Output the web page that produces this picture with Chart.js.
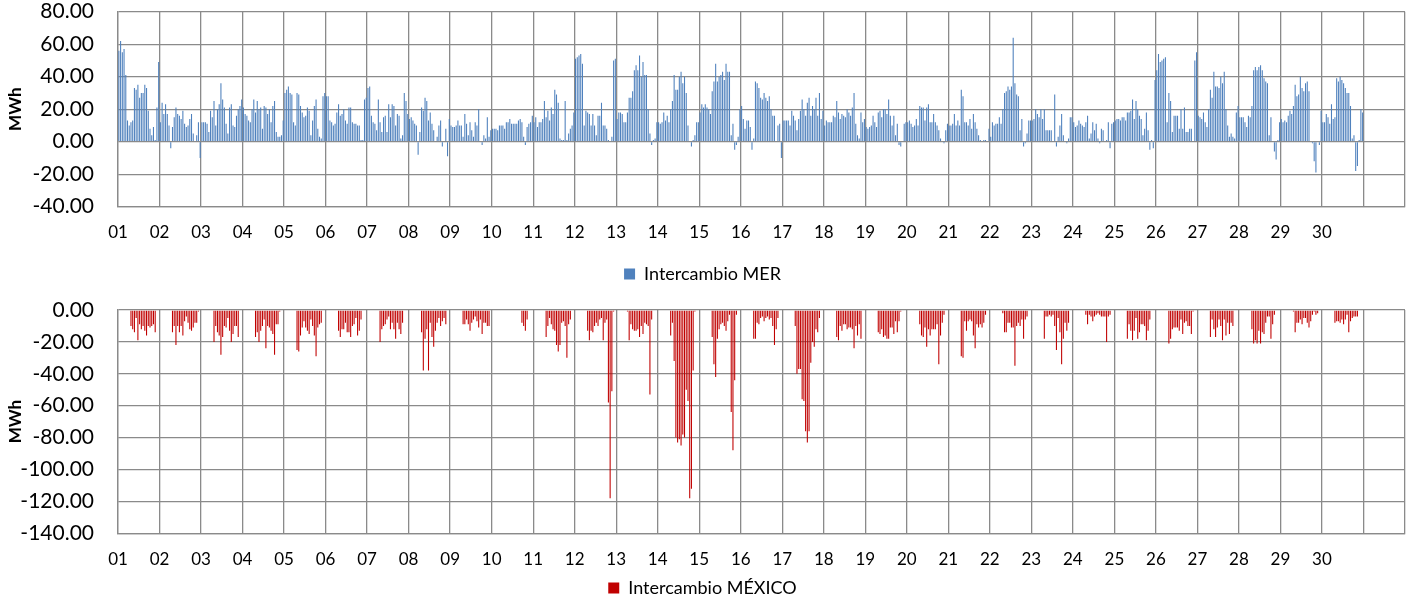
<!DOCTYPE html>
<html>
<head>
<meta charset="utf-8">
<script src="https://cdn.jsdelivr.net/npm/chart.js@4.4.0/dist/chart.umd.min.js"></script>
<style>
  html, body { margin: 0; padding: 0; background: #fff; overflow: hidden; width: 1406px; height: 600px; }
  #top { position: absolute; left: 0; top: 0; width: 1406px; height: 295px; }
  #bot { position: absolute; left: 0; top: 290px; width: 1406px; height: 320px; }
</style>
</head>
<body>
<div id="top"><canvas id="c1"></canvas></div>
<div id="bot"><canvas id="c2"></canvas></div>
<script>
const dayLabels = ['01','02','03','04','05','06','07','08','09','10','11','12','13','14','15','16','17','18','19','20','21','22','23','24','25','26','27','28','29','30'];
const merTicks = [-40, -20, 0, 20, 40, 60, 80];
const mexTicks = [-140, -120, -100, -80, -60, -40, -20, 0];

// Intercambio MER, hourly MWh, one row per day
const mer = [
  [56,62,55,57,41,13,10,12,13,33,32,35,27,30,30,35,33,19,8,4,9,1,21,49],
  [12,24,17,23,17,10,-4,9,15,21,17,16,14,19,11,9,10,14,17,5,0,4,12,-10],
  [12,12,12,11,6,19,15,25,10,20,23,36,26,21,11,5,21,23,10,9,16,20,22,26],
  [21,17,16,13,12,20,26,18,25,20,21,8,22,21,17,20,12,22,25,6,3,3,4,13],
  [30,32,34,30,29,12,10,30,29,22,18,15,16,21,19,4,13,22,26,8,3,2,28,30],
  [28,28,13,12,10,11,18,23,16,17,20,13,11,21,21,12,11,11,10,10,1,1,26,27],
  [33,34,16,12,11,7,26,12,6,15,16,6,23,15,23,22,10,17,16,2,4,30,25,17],
  [14,15,13,11,10,-8,6,21,19,27,25,13,18,11,7,0,3,10,13,-3,0,8,-9,14],
  [10,9,9,10,13,10,10,3,17,11,4,12,7,3,12,10,20,0,-2,4,2,15,3,7],
  [8,8,8,7,10,10,10,8,12,12,14,11,11,11,11,13,14,12,3,-2,9,11,12,16],
  [12,15,9,12,12,14,25,15,19,13,21,17,32,29,24,2,1,1,25,1,5,8,10,18],
  [51,52,53,54,48,10,19,18,17,10,17,10,4,16,16,24,10,10,8,1,0,3,50,51],
  [14,18,18,17,12,12,18,27,27,31,44,47,44,53,40,49,41,41,20,5,-2,1,2,12],
  [12,11,12,18,13,16,12,20,25,41,32,32,40,43,36,40,30,10,0,-3,1,4,12,12],
  [18,23,21,23,21,20,17,31,37,48,37,40,41,43,38,48,43,43,4,11,-5,-2,3,20],
  [22,14,8,13,13,9,-5,2,37,36,33,27,26,30,27,25,28,20,16,16,0,10,11,-10],
  [13,13,13,13,10,19,16,13,7,14,19,26,20,16,24,27,16,22,20,27,16,30,14,19],
  [10,13,12,12,12,16,15,25,18,14,17,16,15,20,18,16,21,30,11,4,2,18,12,14],
  [9,8,9,10,16,12,9,18,19,15,20,20,17,26,16,10,16,4,11,-2,-3,0,11,12],
  [12,13,11,9,10,14,10,22,21,21,13,21,23,12,12,17,12,10,7,2,0,-1,7,11],
  [10,10,11,17,10,13,10,32,28,12,12,10,14,8,17,12,8,4,1,0,1,1,0,8],
  [3,12,10,11,11,15,11,20,30,31,34,32,34,64,36,29,28,7,14,-3,-1,5,13,13],
  [13,14,20,17,15,20,14,20,7,7,7,7,0,29,-3,3,10,17,4,0,-1,2,15,15],
  [12,9,10,13,11,10,9,12,16,2,5,12,7,11,2,-1,8,7,0,1,12,-4,11,12],
  [13,14,14,13,15,15,13,18,18,19,26,14,25,20,16,14,4,8,18,7,-5,1,-4,38],
  [44,54,49,50,51,52,12,30,25,6,16,16,16,8,20,8,21,6,6,8,8,0,50,55],
  [16,15,14,18,12,9,20,32,27,43,34,34,33,40,36,43,20,10,3,5,3,2,18,22],
  [15,15,15,12,9,16,15,22,44,46,44,46,47,44,39,37,36,4,15,0,-6,-11,1,12],
  [14,12,13,12,16,19,17,22,35,28,29,40,33,31,36,37,31,0,-1,-12,-19,0,-2,19],
  [12,12,17,15,11,23,14,15,39,37,40,38,36,33,30,30,22,2,4,-18,-15,1,20,18]
];

// Intercambio MÉXICO, hourly MWh, one row per day
const mexico = [
  [0,0,0,0,0,0,0,-10,-12,-14,-5,-19,-9,-12,-10,-13,-16,-10,-11,-10,-9,-14,0,0],
  [0,0,0,0,0,0,0,-14,-10,-22,-10,-14,-10,-16,-7,-4,-8,-12,-13,-11,-8,-8,-1,0],
  [0,0,0,0,0,0,0,-20,-10,-14,-16,-28,-17,-10,-11,-5,-13,-20,-15,-10,-10,-17,0,0],
  [0,0,0,0,0,0,0,-17,-14,-20,-13,-10,-6,-24,-10,-11,-13,-15,-28,-9,-9,-1,0,0],
  [0,0,0,0,0,0,0,-25,-26,-16,-11,-7,-11,-13,-15,-6,-10,-16,-29,-11,-9,-8,0,0],
  [0,0,0,0,0,0,0,-13,-17,-12,-12,-8,-14,-14,-17,-10,-9,-5,-16,-13,-6,0,0,0],
  [0,0,0,0,0,0,0,-20,-12,-10,-9,-6,-4,-12,-8,-12,-18,-8,-12,-15,-8,0,0,0],
  [0,0,0,0,0,0,0,-14,-38,-18,-12,-38,-8,-17,-23,-13,-8,-5,-10,-7,-5,-9,0,0],
  [0,0,0,0,0,0,0,-9,-9,-6,-9,-13,-8,-6,-4,-7,-11,-6,-15,-8,-8,-10,-10,0],
  [0,0,0,0,0,0,0,0,0,0,0,0,0,0,0,0,0,-8,-10,-13,-6,0,0,0],
  [0,0,0,0,0,0,0,-17,-10,-5,-9,-12,-13,-22,-26,-22,-8,-7,-10,-30,-9,-6,0,0],
  [0,0,0,0,0,0,0,-13,-19,-13,-14,-10,-8,-10,-6,-5,-19,-8,-6,-58,-118,-51,-1,0],
  [0,0,0,0,0,0,-1,-19,-9,-12,-13,-13,-12,-17,-10,-15,-8,-9,-10,-53,-6,0,0,0],
  [0,0,0,0,0,0,0,-16,-8,-32,-80,-83,-81,-85,-78,-80,-50,-57,-118,-112,-38,-1,0,0],
  [0,0,0,0,0,0,0,-17,-34,-42,-18,-12,-9,-8,-10,-13,-7,-3,-64,-88,-44,-3,0,0],
  [0,0,0,0,0,0,0,-18,-18,-8,-9,-5,-4,-7,-5,-4,-6,-5,-10,-22,-12,-5,0,0],
  [0,0,0,0,0,0,0,-10,-40,-37,-37,-56,-57,-76,-83,-76,-33,-20,-23,-12,-14,-5,0,0],
  [0,0,0,0,0,0,0,-17,-19,-10,-13,-9,-9,-12,-11,-11,-12,-24,-10,-16,-9,-18,0,0],
  [0,0,0,0,0,0,0,-14,-15,-12,-17,-16,-18,-18,-11,-11,-15,-7,-14,-7,-1,0,0,0],
  [0,0,0,0,0,0,0,-9,-16,-17,-11,-23,-12,-16,-12,-12,-12,-9,-34,-16,-8,-3,0,0],
  [0,0,0,0,0,0,0,-29,-30,-7,-13,-7,-6,-7,-16,-24,-9,-11,-9,-11,-8,-3,0,0],
  [0,0,0,0,0,0,0,-2,-14,-14,-8,-8,-11,-11,-35,-10,-8,-10,-6,-18,-6,-4,0,0],
  [0,0,0,0,0,0,0,-18,-4,-4,-3,-4,-3,-10,-25,-5,-14,-34,-18,-8,-13,-8,0,0],
  [0,0,0,0,0,0,0,-3,-9,-3,-4,-7,-4,-3,-2,-3,-4,-4,-4,-20,-4,-3,0,0],
  [0,0,0,0,0,0,0,-18,-9,-13,-19,-13,-5,-18,-14,-9,-9,-10,-19,-13,-6,0,0,0],
  [0,0,0,0,0,0,0,-21,-18,-12,-11,-11,-11,-13,-6,-15,-8,-7,-10,-10,-15,-1,0,0],
  [0,0,0,0,0,0,0,-17,-6,-12,-17,-11,-6,-10,-19,-6,-16,-8,-15,-8,-10,0,0,0],
  [0,0,0,0,0,0,0,-12,-21,-19,-21,-13,-21,-14,-15,-8,-4,-4,-18,-9,-3,0,0,0],
  [0,0,0,0,0,0,0,-1,-14,-8,-8,-6,-9,-5,-5,-8,-11,-7,-3,-1,-3,-2,0,0],
  [0,0,0,0,0,0,0,-8,-7,-7,-8,-6,-9,-6,-3,-14,-7,-5,-4,-4,-4,0,0,0]
];

const HOURS = 24;
const SLOTS = 31; // 30 days plotted + one empty day column

function toPoints(rows) {
  const pts = [];
  rows.forEach((day, d) => day.forEach((v, h) => pts.push({ x: d * HOURS + h + 0.5, y: v })));
  return pts;
}

const gridColor = '#8a8a8a';
const FONT = 'Lato, "Open Sans", sans-serif';

function makeChart(canvasId, label, rows, color, yTicks, opts) {
  const yMin = yTicks[0], yMax = yTicks[yTicks.length - 1];
  return new Chart(document.getElementById(canvasId), {
    type: 'bar',
    data: {
      datasets: [{
        label: label,
        data: toPoints(rows),
        backgroundColor: color,
        borderColor: color,
        borderWidth: 0,
        barPercentage: 0.62,
        categoryPercentage: 1.0
      }]
    },
    options: {
      responsive: true,
      maintainAspectRatio: false,
      animation: false,
      layout: { padding: { left: 0, right: 1, top: opts.padTop, bottom: opts.padBottom } },
      plugins: {
        tooltip: { enabled: false },
        legend: {
          position: 'bottom',
          labels: {
            boxWidth: 11, boxHeight: 11, padding: 10,
            color: '#000',
            font: { family: FONT, size: 18 }
          }
        }
      },
      scales: {
        x: {
          type: 'linear',
          min: 0,
          max: SLOTS * HOURS,
          offset: false,
          afterFit: s => { s.height = opts.xHeight; },
          grid: { color: gridColor, lineWidth: 1.3, drawTicks: true, tickLength: opts.xPad, tickColor: 'rgba(0,0,0,0)', offset: false },
          border: { color: gridColor, width: 1.3 },
          ticks: {
            stepSize: HOURS,
            autoSkip: false,
            maxRotation: 0,
            padding: 0,
            color: '#000',
            font: { family: FONT, size: 17 },
            callback: v => dayLabels[Math.round(v / HOURS)] || ''
          }
        },
        y: {
          min: yMin,
          max: yMax,
          afterFit: s => { s.width = 118; },
          grid: { color: gridColor, lineWidth: 1.3, drawTicks: true, tickLength: 24, tickColor: 'rgba(0,0,0,0)' },
          border: { color: gridColor, width: 1.3 },
          title: {
            display: true,
            text: 'MWh',
            color: '#000',
            font: { family: FONT, size: 17, weight: 'bold' },
            padding: { top: 5, bottom: 0 }
          },
          ticks: {
            stepSize: 20,
            padding: 0,
            color: '#000',
            font: { family: FONT, size: 21, lineHeight: 1 },
            callback: v => yTicks.includes(v) ? v.toFixed(2) : ''
          }
        }
      }
    }
  });
}

makeChart('c1', 'Intercambio MER', mer, '#4F81BD', merTicks,
  { padTop: 11.7, padBottom: 2, xHeight: 48.3, xPad: 15.5 });
makeChart('c2', 'Intercambio MÉXICO', mexico, '#C00000', mexTicks,
  { padTop: 20, padBottom: 3, xHeight: 35.7, xPad: 16 });
</script>
</body>
</html>
